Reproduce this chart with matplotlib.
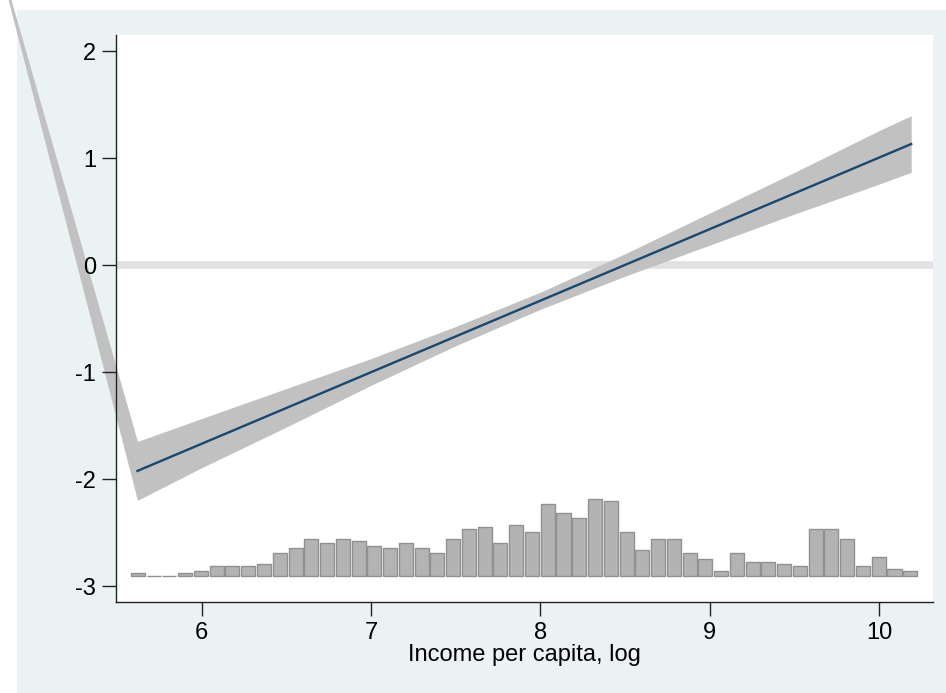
import numpy as np
import matplotlib.pyplot as plt
from matplotlib.patches import Rectangle

plt.rcParams['font.family'] = ['Liberation Sans', 'DejaVu Sans']
plt.rcParams['axes.unicode_minus'] = False

# fitted line (linear prediction)
fit_x = [5.62, 10.19]
fit_y = [-1.92, 1.135]

# confidence band (first point is the stray one off to the left)
band_x = [4.70, 5.62, 6.0, 6.5, 7.0, 7.5, 8.0, 8.5, 9.0, 9.5, 10.0, 10.19]
band_hi = [3.44, -1.645, -1.43, -1.15, -0.87, -0.57, -0.25, 0.11, 0.49, 0.87, 1.26, 1.40]
band_lo = [3.44, -2.195, -1.89, -1.51, -1.12, -0.75, -0.41, -0.10, 0.19, 0.48, 0.76, 0.87]

# histogram of income per capita (counts per bin)
hist_start = 5.576
hist_width = 0.0931
counts = [1, 0, 0, 1, 2, 4, 4, 4, 5, 10,
          12, 16, 14, 16, 15, 13, 12, 14, 12, 10,
          16, 20, 21, 14, 22, 19, 31, 27, 25, 33,
          32, 19, 11, 16, 16, 10, 7, 2, 10, 6,
          6, 5, 4, 20, 20, 16, 4, 8, 3, 2]
hist_base = -2.90
hist_unit = 0.0217  # y units per observation

xticks = [6, 7, 8, 9, 10]
yticks = [-3, -2, -1, 0, 1, 2]

fig = plt.figure(figsize=(9.46, 6.93), dpi=100, facecolor='white')
# Stata graph region
fig.patches.append(Rectangle((17 / 946, 0), 1 - 17 / 946, 1 - 10 / 693,
                             transform=fig.transFigure, facecolor='#eaf2f3',
                             edgecolor='none', zorder=-10))

ax = fig.add_axes([0.1223, 0.1309, 0.864, 0.8186])
ax.set_facecolor('white')

ax.axhline(0, color='#e1e1e1', lw=5.5, zorder=1)

ax.fill_between(band_x, band_lo, band_hi, color='#c1c1c1', lw=0,
                clip_on=False, zorder=1.5)
ax.plot(fit_x, fit_y, color='#1a476f', lw=1.7, zorder=3)

n = len(counts)
centers = hist_start + hist_width * (np.arange(n) + 0.5)
heights = np.array(counts) * hist_unit
ax.bar(centers, heights, width=hist_width * 0.89, bottom=hist_base,
       color='#b3b3b3', edgecolor='#919191', lw=1.0, zorder=2)

ax.set_xlim(5.4914, 10.319)
ax.set_ylim(-3.148, 2.154)
ax.set_xticks(xticks)
ax.set_yticks(yticks)
ax.set_yticklabels([str(v) for v in yticks])

for s in ['top', 'right']:
    ax.spines[s].set_visible(False)
for s in ['left', 'bottom']:
    ax.spines[s].set_color('#222222')
    ax.spines[s].set_linewidth(1.0)

ax.tick_params(axis='both', direction='out', length=10, width=1.0,
               color='#222222', labelsize=17, labelcolor='black')
ax.tick_params(axis='x', pad=4)
ax.tick_params(axis='y', pad=4)

ax.set_xlabel('Income per capita, log', fontsize=17, labelpad=0)

fig.savefig('out.png', dpi=100, facecolor='white')
